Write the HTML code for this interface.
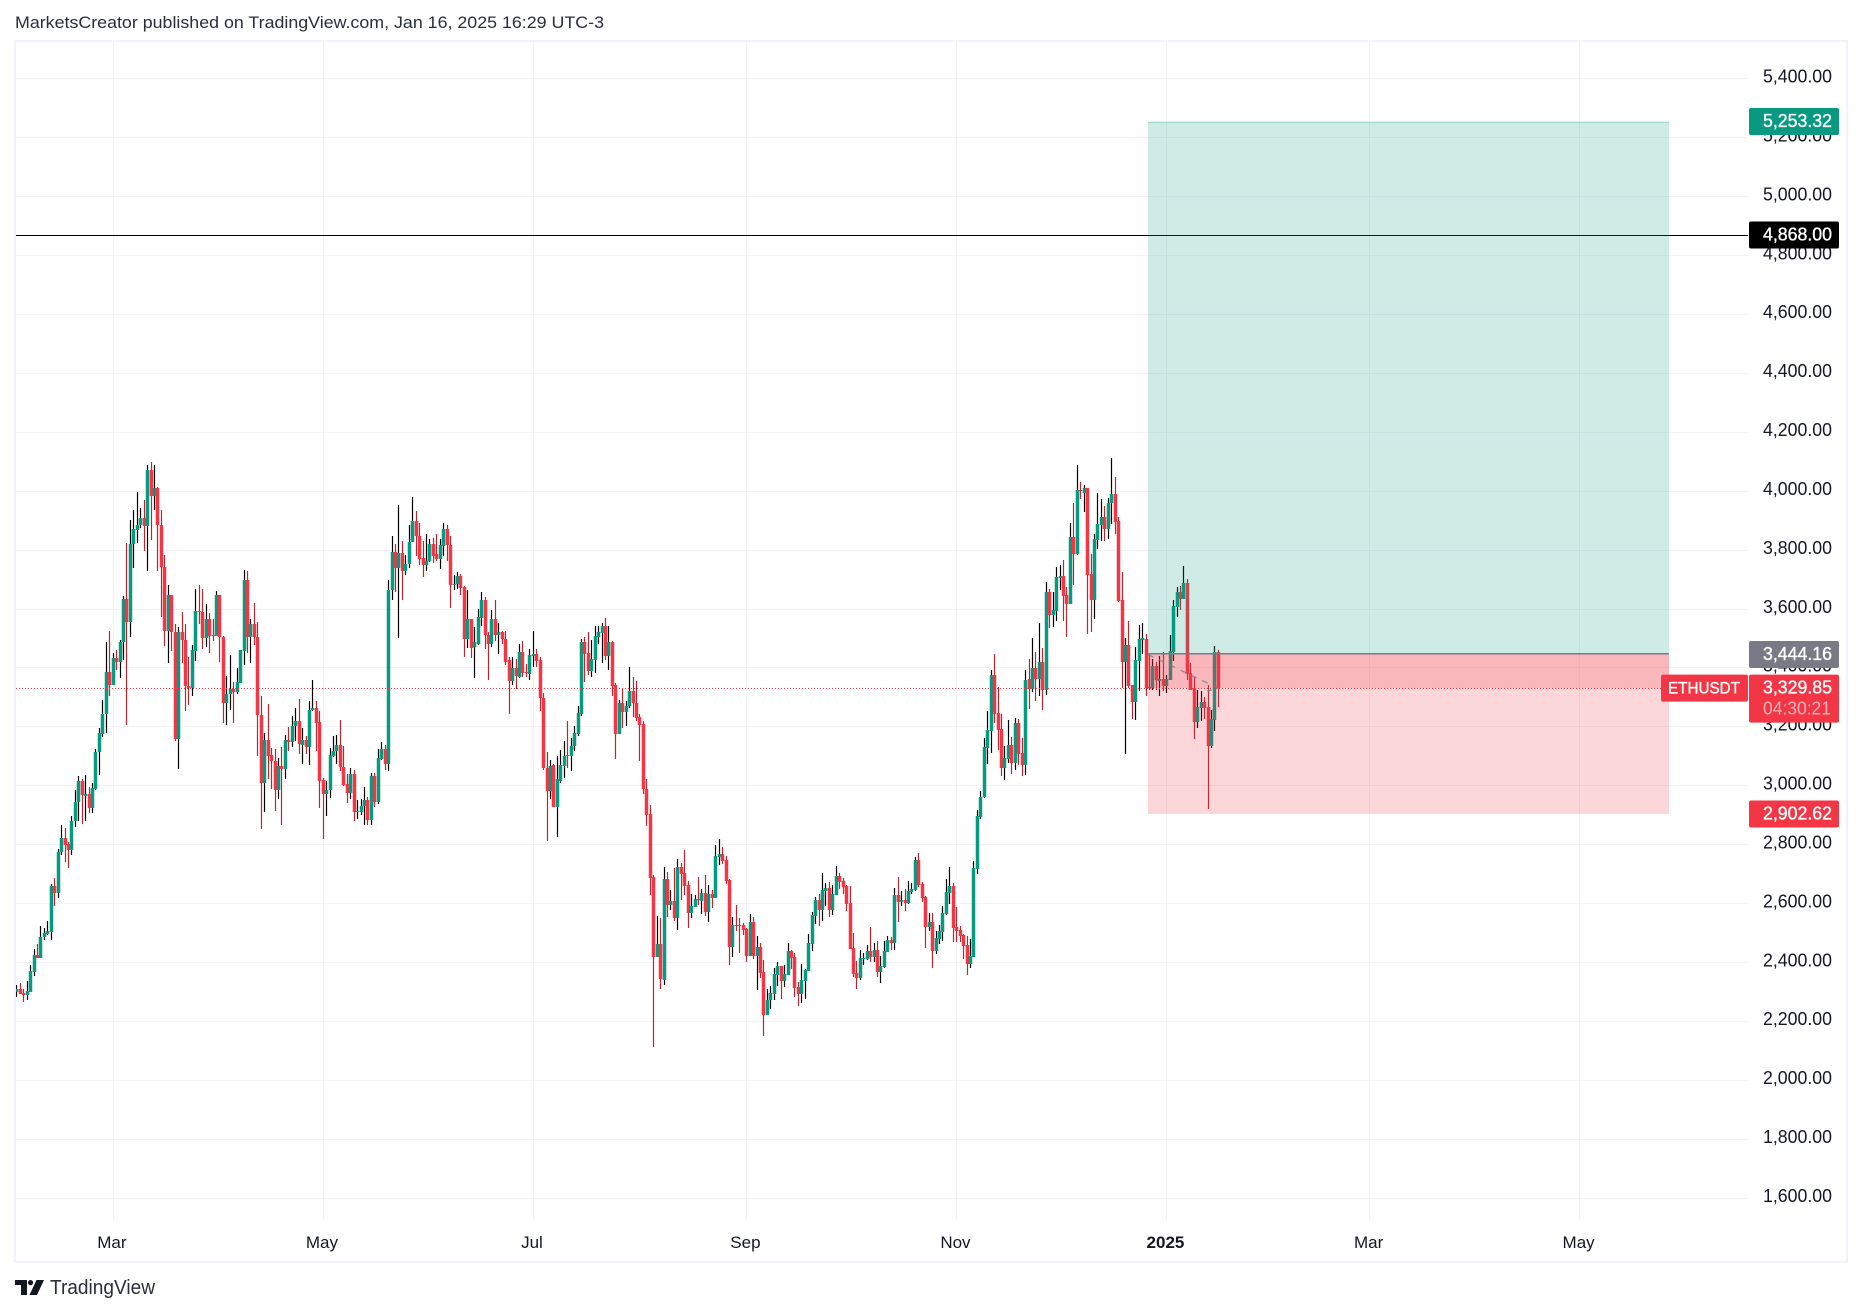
<!DOCTYPE html>
<html lang="en">
<head>
<meta charset="utf-8">
<title>ETHUSDT chart</title>
<style>
  html, body { margin: 0; padding: 0; background: #ffffff; }
  #stage { display: block; width: 1862px; height: 1315px; }
  text { font-family: "Liberation Sans", sans-serif; }
</style>
</head>
<body>
<svg id="stage" xmlns="http://www.w3.org/2000/svg" width="1862" height="1315" viewBox="0 0 1862 1315">
  <rect x="0" y="0" width="1862" height="1315" fill="#ffffff"/>
  <text x="15" y="28" font-size="16.5" fill="#2a2e39" textLength="589" lengthAdjust="spacingAndGlyphs">MarketsCreator published on TradingView.com, Jan 16, 2025 16:29 UTC-3</text>
  <rect x="15" y="41" width="1832" height="1221" fill="none" stroke="#f0f3fa" stroke-width="2"/>
  <defs>
    <clipPath id="pane-clip"><rect x="16" y="42" width="1732" height="1178"/></clipPath>
  </defs>
  <g id="grid"></g>
  <g id="candles" clip-path="url(#pane-clip)"></g>
  <g id="overlay" clip-path="url(#pane-clip)"></g>
  <g id="axis"></g>
  <g id="labels"></g>
  <g>
    <path d="M15 1280h12v15h-6v-10h-6z" fill="#131722"/>
    <circle cx="30.5" cy="1282.6" r="2.6" fill="#131722"/>
    <path d="M36.5 1280h7.5l-7 15h-7.5z" fill="#131722"/>
    <text x="50" y="1294" font-size="20" fill="#2a2e39" textLength="105" lengthAdjust="spacingAndGlyphs">TradingView</text>
  </g>
</svg>
<script>
const opens = [
2298,2307,2296,2287,2299,2368,2424,2415,2484,2496,
2503,2658,2635,2773,2822,2802,2782,2879,2942,3016,
2965,2971,2922,2988,3112,3173,3241,3386,3339,3433,
3420,3485,3631,3554,3819,3868,3883,3907,3880,4069,
3982,4008,3885,3742,3523,3647,3520,3156,3519,3493,
3337,3329,3455,3593,3590,3499,3563,3511,3506,3647,
3505,3278,3310,3328,3316,3349,3455,3696,3505,3546,
3505,3239,3007,3155,3104,3083,2983,3066,3055,3155,
3146,3202,3220,3138,3155,3129,3255,3264,3216,3017,
2969,2983,3100,3116,3138,3063,3005,2973,3037,2910,
2910,2929,2951,2881,3033,2942,3090,3124,3072,3662,
3791,3737,3787,3727,3752,3826,3896,3846,3771,3747,
3761,3818,3784,3767,3811,3869,3815,3683,3683,3710,
3672,3497,3563,3468,3481,3568,3628,3512,3481,3563,
3512,3519,3497,3424,3354,3397,3369,3451,3384,3377,
3440,3445,3424,3298,3060,2981,3068,2927,3016,3065,
3103,3099,3134,3173,3243,3485,3448,3388,3425,3503,
3516,3540,3438,3485,3340,3174,3278,3249,3268,3319,
3280,3233,3207,2989,2903,2689,2416,2462,2340,2682,
2594,2608,2551,2723,2703,2662,2567,2587,2615,2608,
2635,2571,2632,2618,2757,2767,2747,2679,2452,2526,
2526,2526,2513,2421,2537,2421,2452,2367,2221,2270,
2293,2357,2387,2337,2357,2438,2418,2316,2293,2337,
2371,2462,2557,2611,2577,2642,2652,2577,2628,2693,
2676,2659,2601,2448,2364,2347,2411,2411,2438,2418,
2442,2367,2384,2435,2476,2465,2628,2604,2611,2601,
2638,2645,2747,2665,2621,2520,2537,2438,2479,2503,
2564,2635,2659,2520,2509,2493,2459,2394,2418,2716,
2893,2960,3126,3184,3374,3245,3191,3059,3089,3137,
3076,3211,3110,3069,3360,3326,3398,3360,3418,3323,
3655,3577,3591,3703,3710,3645,3615,3842,3784,4001,
3994,4008,3716,3628,3832,3883,3910,3869,3957,3988,
3896,3628,3418,3476,3340,3282,3421,3493,3497,3333,
3331,3406,3355,3362,3336,3358,3453,3606,3657,3633,
3687,3382,3330,3216,3263,3284,3267,3134,3223,3453];
const highs = [
2323,2329,2307,2336,2390,2445,2462,2523,2516,2540,
2666,2686,2784,2866,2856,2806,2896,2984,3033,3020,
3036,2995,3009,3124,3195,3290,3488,3525,3449,3460,
3494,3644,3823,3902,3936,3997,3943,3967,4088,4096,
4086,4014,3936,3783,3681,3647,3549,3537,3590,3546,
3436,3475,3668,3681,3668,3614,3586,3566,3658,3647,
3507,3371,3443,3352,3399,3460,3732,3729,3566,3620,
3553,3304,3176,3277,3128,3124,3094,3131,3172,3199,
3235,3264,3294,3194,3168,3286,3359,3286,3254,3024,
3014,3128,3168,3172,3222,3133,3039,3060,3053,2949,
2955,2995,2961,3043,3043,3122,3148,3138,3696,3845,
3818,3953,3831,3781,3885,3980,3932,3892,3828,3852,
3835,3841,3852,3835,3889,3883,3845,3713,3723,3717,
3675,3662,3563,3536,3597,3656,3641,3519,3594,3628,
3550,3525,3523,3437,3436,3428,3479,3489,3411,3462,
3525,3464,3434,3315,3112,3085,3073,3098,3119,3152,
3220,3159,3203,3271,3496,3502,3519,3493,3542,3542,
3550,3567,3542,3489,3346,3288,3330,3285,3401,3369,
3353,3243,3220,3020,2933,2696,2557,2550,2723,2706,
2645,2720,2750,2736,2781,2674,2632,2628,2689,2648,
2696,2662,2645,2798,2818,2791,2760,2682,2554,2594,
2550,2533,2516,2564,2554,2489,2465,2408,2309,2320,
2381,2401,2387,2391,2465,2442,2432,2333,2394,2377,
2496,2570,2621,2632,2703,2669,2672,2662,2726,2703,
2686,2662,2659,2499,2404,2442,2432,2459,2520,2465,
2472,2421,2472,2489,2486,2652,2689,2642,2648,2676,
2669,2757,2770,2672,2625,2567,2567,2506,2526,2591,
2682,2723,2669,2587,2523,2496,2489,2479,2743,2916,
2981,3160,3252,3391,3445,3333,3242,3133,3221,3164,
3228,3225,3160,3391,3428,3499,3452,3550,3465,3689,
3665,3655,3740,3747,3764,3672,3889,3960,4089,4028,
4018,4008,3784,3852,3991,3971,3947,3977,4110,4045,
3910,3723,3499,3557,3340,3469,3543,3550,3514,3443,
3429,3417,3440,3453,3375,3511,3629,3673,3677,3745,
3701,3416,3368,3324,3321,3301,3341,3256,3473,3460];
const lows = [
2283,2293,2266,2270,2299,2354,2414,2415,2474,2493,
2474,2592,2619,2762,2741,2721,2765,2857,2878,2870,
2878,2906,2906,2984,3036,3163,3176,3302,3339,3393,
3363,3427,3204,3503,3737,3822,3874,3794,3727,3832,
3933,3727,3573,3472,3415,3455,3152,3057,3415,3251,
3272,3302,3421,3547,3462,3468,3449,3489,3506,3417,
3213,3204,3255,3211,3310,3346,3407,3450,3415,3476,
3101,2853,2908,3023,2986,2914,2952,2867,3020,3118,
3131,3151,3105,3073,3105,3068,3251,3115,2922,2819,
2895,2958,3095,3073,3047,2999,2939,2952,2879,2887,
2900,2867,2864,2864,2925,2936,3085,3053,3050,3628,
3655,3499,3628,3714,3737,3826,3777,3748,3706,3727,
3758,3756,3761,3734,3780,3763,3603,3662,3668,3645,
3434,3466,3431,3364,3475,3542,3464,3358,3468,3490,
3447,3479,3407,3242,3340,3327,3363,3367,3369,3358,
3402,3403,3254,3051,2810,2955,2925,2823,3007,3025,
3059,3047,3116,3167,3236,3350,3376,3369,3380,3481,
3414,3425,3392,3303,3089,3173,3194,3202,3262,3233,
3217,3081,2970,2861,2628,2111,2416,2309,2321,2554,
2577,2540,2510,2611,2628,2516,2550,2587,2594,2564,
2557,2537,2584,2618,2730,2733,2665,2391,2418,2506,
2432,2493,2401,2421,2411,2306,2347,2150,2221,2242,
2272,2320,2276,2316,2357,2377,2282,2252,2262,2276,
2371,2438,2530,2523,2540,2591,2554,2560,2628,2648,
2632,2574,2445,2350,2310,2340,2391,2408,2401,2401,
2350,2330,2381,2435,2442,2442,2537,2591,2574,2598,
2632,2642,2655,2604,2448,2506,2381,2428,2462,2472,
2560,2598,2469,2469,2469,2411,2357,2381,2418,2699,
2886,2957,3072,3110,3211,3120,3032,3018,3076,3038,
3052,3069,3032,3035,3259,3316,3286,3303,3255,3306,
3533,3537,3557,3662,3557,3503,3615,3679,3781,3971,
3927,3513,3520,3564,3801,3828,3828,3835,3886,3852,
3621,3330,3106,3330,3225,3221,3320,3445,3304,3324,
3324,3324,3304,3319,3315,3358,3423,3572,3595,3633,
3358,3324,3158,3195,3219,3226,2921,3128,3185,3267];
const closes = [
2307,2293,2287,2301,2370,2424,2414,2484,2498,2505,
2658,2635,2774,2822,2799,2782,2879,2944,3016,2966,
2971,2922,2992,3114,3176,3243,3386,3339,3433,3420,
3488,3631,3554,3820,3871,3885,3907,3880,4069,3982,
4008,3883,3740,3523,3647,3520,3156,3520,3493,3337,
3329,3458,3593,3590,3499,3563,3508,3506,3647,3505,
3278,3311,3328,3316,3352,3458,3696,3505,3546,3503,
3238,3007,3155,3101,3082,2983,3066,3055,3155,3146,
3203,3220,3139,3155,3129,3256,3264,3213,3014,2969,
2984,3103,3118,3138,3061,3001,2973,3037,2908,2914,
2931,2951,2881,3033,2942,3094,3124,3072,3664,3791,
3737,3787,3727,3753,3827,3896,3846,3767,3748,3763,
3818,3780,3767,3815,3869,3815,3680,3685,3710,3670,
3497,3563,3467,3485,3570,3628,3510,3481,3563,3512,
3519,3497,3420,3354,3397,3371,3451,3381,3380,3441,
3445,3421,3295,3058,2981,3067,2927,3020,3068,3100,
3099,3134,3176,3246,3485,3445,3388,3428,3506,3519,
3540,3438,3485,3337,3174,3278,3249,3271,3319,3280,
3230,3204,2987,2901,2687,2416,2462,2341,2682,2594,
2608,2550,2723,2699,2659,2567,2591,2615,2611,2635,
2571,2632,2618,2760,2767,2743,2676,2452,2526,2523,
2523,2510,2421,2537,2421,2452,2364,2221,2272,2296,
2360,2387,2337,2360,2438,2415,2313,2293,2340,2374,
2465,2560,2611,2577,2645,2652,2577,2632,2693,2672,
2655,2598,2445,2360,2347,2415,2415,2438,2418,2442,
2367,2387,2438,2476,2465,2628,2604,2611,2601,2642,
2648,2747,2662,2618,2520,2537,2438,2482,2506,2567,
2638,2659,2516,2506,2489,2455,2394,2421,2720,2896,
2960,3130,3187,3374,3242,3187,3059,3093,3137,3076,
3211,3106,3069,3357,3326,3398,3360,3418,3323,3655,
3577,3594,3706,3710,3642,3615,3842,3784,4001,3998,
4008,3713,3628,3835,3886,3910,3869,3960,3988,3893,
3625,3418,3476,3337,3282,3425,3496,3499,3332,3331,
3406,3356,3362,3336,3362,3457,3609,3657,3633,3687,
3379,3324,3216,3267,3284,3263,3134,3226,3453,3330];

const priceTicks = [5400,5200,5000,4800,4600,4400,4200,4000,3800,3600,3400,3200,3000,2800,2600,2400,2200,2000,1800,1600];
const timeTickLabels = ['Mar','May','Jul','Sep','Nov','2025','Mar','May'];
const timeTickBars = [28,89,150,212,273,334,393,454];
const targetPrice = 5253.32;
const entryPrice = 3444.16;
const stopPrice = 2902.62;
const lastPrice = 3329.85;
const horizontalLevel = 4868;
const positionBars = [328.7, 480];
const symbolName = 'ETHUSDT';
const countdownText = '04:30:21';

const NS = 'http://www.w3.org/2000/svg';
const xOf = function (bar) { return 16.3 + 3.443 * bar; };
const yOf = function (price) { return 78.3 + (5400 - price) * 0.2946; };
const fmt = function (v) { return v.toLocaleString('en-US', { minimumFractionDigits: 2, maximumFractionDigits: 2 }); };
const make = function (tag, props, parent) {
  const el = document.createElementNS(NS, tag);
  for (const k in props) el.setAttribute(k, props[k]);
  parent.appendChild(el);
  return el;
};

const gridG = document.getElementById('grid');
const candleG = document.getElementById('candles');
const overlayG = document.getElementById('overlay');
const axisG = document.getElementById('axis');
const labelG = document.getElementById('labels');

priceTicks.forEach(function (p) {
  const y = Math.round(yOf(p));
  const line = make('rect', { x: 16, y: y, width: 1732, height: 1, fill: '#f2f3f5' }, gridG);
  
  
  const t = make('text', { x: 1832, y: yOf(p) + 4.2, 'font-size': 18, fill: '#131722', 'text-anchor': 'end', textLength: 69, lengthAdjust: 'spacingAndGlyphs' }, axisG);
  
  
  t.textContent = fmt(p);
});

timeTickBars.forEach(function (b, i) {
  const x = Math.round(xOf(b));
  const line = make('rect', { x: x, y: 42, width: 1, height: 1178, fill: '#f2f3f5' }, gridG);
  
  
  const isYear = timeTickLabels[i] === '2025';
  const t = make('text', { x: xOf(b) - 0.8, y: 1248, 'font-size': 17, fill: '#131722', 'text-anchor': 'middle', 'font-weight': isYear ? 700 : 400 }, axisG);
  
  
  t.textContent = timeTickLabels[i];
});

opens.forEach(function (o, i) {
  const c = closes[i];
  const up = c >= o;
  const cx = Math.round(xOf(i)) + 0.5;
  const top = Math.round(yOf(Math.max(o, c)));
  const bottom = Math.round(yOf(Math.min(o, c)));
  const wickTop = Math.round(yOf(highs[i]));
  const wickBottom = Math.round(yOf(lows[i]));
  const wick = make('rect', { x: cx - 0.6, y: wickTop, width: 1.2, height: Math.max(1, wickBottom - wickTop), fill: up ? '#000000' : '#b22833' }, candleG);
  
  
  const body = make('rect', { x: cx - 1.75, y: top, width: 3.5, height: Math.max(1, bottom - top), fill: up ? '#089981' : '#f23645' }, candleG);
  
  
});

const levelLine = make('rect', { x: 16, y: Math.floor(yOf(horizontalLevel)), width: 1732, height: 1, fill: '#000000' }, overlayG);



const lastLine = make('line', { x1: 16, x2: 1748, y1: Math.round(yOf(lastPrice)) + 0.5, y2: Math.round(yOf(lastPrice)) + 0.5, stroke: '#f23645', 'stroke-width': 1, 'stroke-dasharray': '1 2' }, overlayG);



const posLeft = Math.round(xOf(positionBars[0]));
const posRight = Math.round(xOf(positionBars[1]));
const targetZone = make('rect', { x: posLeft, y: yOf(targetPrice), width: posRight - posLeft, height: yOf(entryPrice) - yOf(targetPrice), fill: '#089981', 'fill-opacity': 0.2 }, overlayG);


const stopZone = make('rect', { x: posLeft, y: yOf(entryPrice), width: posRight - posLeft, height: yOf(stopPrice) - yOf(entryPrice), fill: '#f23645', 'fill-opacity': 0.2 }, overlayG);


const activeLoss = make('rect', { x: posLeft, y: yOf(entryPrice), width: posRight - posLeft, height: yOf(lastPrice) - yOf(entryPrice), fill: '#f23645', 'fill-opacity': 0.2 }, overlayG);


const entryLine = make('rect', { x: posLeft, y: Math.round(yOf(entryPrice)) - 1, width: posRight - posLeft, height: 1.5, fill: '#787b86' }, overlayG);


const topEdge = make('rect', { x: posLeft, y: Math.round(yOf(targetPrice)), width: posRight - posLeft, height: 1, fill: '#089981', 'fill-opacity': 0.25 }, overlayG);



const lastBar = opens.length - 1;
const arrow = make('path', {
  d: 'M' + posLeft + ' ' + yOf(entryPrice) + ' L' + xOf(lastBar) + ' ' + yOf(lastPrice) + ' L' + (xOf(lastBar) - 11) + ' ' + (yOf(lastPrice) + 3),
  fill: 'none', stroke: '#787b86', 'stroke-width': 1.4, 'stroke-dasharray': '6 6', 'stroke-opacity': 0.75
}, overlayG);



const priceTag = function (price, fill, name) {
  const cy = yOf(price);
  const box = make('rect', { x: 1749, y: cy - 13.5, width: 90, height: 27, rx: 2, fill: fill }, labelG);
  
  
  const t = make('text', { x: 1832, y: cy + 5.5, 'font-size': 18, fill: '#ffffff', stroke: '#ffffff', 'stroke-width': 0.35, 'text-anchor': 'end', textLength: 69, lengthAdjust: 'spacingAndGlyphs' }, labelG);
  
  
  t.textContent = fmt(price);
};
priceTag(targetPrice, '#089981', 'target-price');
priceTag(horizontalLevel, '#000000', 'level-price');
priceTag(entryPrice, '#787b86', 'entry-price');
priceTag(stopPrice, '#f23645', 'stop-price');

const lastY = yOf(lastPrice);
const lastBox = make('rect', { x: 1749, y: lastY - 13.5, width: 90, height: 48, rx: 2, fill: '#f23645' }, labelG);


const lastText = make('text', { x: 1832, y: lastY + 5.5, 'font-size': 18, fill: '#ffffff', stroke: '#ffffff', 'stroke-width': 0.35, 'text-anchor': 'end', textLength: 69, lengthAdjust: 'spacingAndGlyphs' }, labelG);


lastText.textContent = fmt(lastPrice);
const countdown = make('text', { x: 1831, y: lastY + 26.5, 'font-size': 18, fill: '#ffffff', 'fill-opacity': 0.62, 'text-anchor': 'end', textLength: 68, lengthAdjust: 'spacingAndGlyphs' }, labelG);


countdown.textContent = countdownText;
const symBox = make('rect', { x: 1661, y: lastY - 13.5, width: 87, height: 27, rx: 2, fill: '#f23645' }, labelG);


const symText = make('text', { x: 1668, y: lastY + 5.5, 'font-size': 17, fill: '#ffffff', stroke: '#ffffff', 'stroke-width': 0.35, textLength: 72, lengthAdjust: 'spacingAndGlyphs' }, labelG);


symText.textContent = symbolName;
</script>
</body>
</html>
